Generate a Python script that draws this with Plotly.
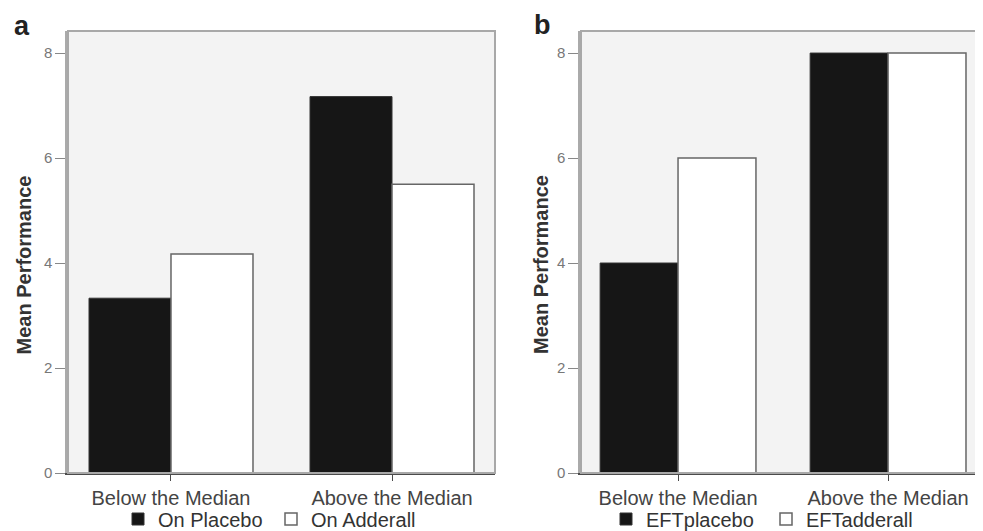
import plotly.graph_objects as go

categories = ["Below the Median", "Above the Median"]
a_placebo = [3.33, 7.17]
a_adderall = [4.17, 5.5]
b_placebo = [4.0, 8.0]
b_adderall = [6.0, 8.0]
legend_a = ["On Placebo", "On Adderall"]
legend_b = ["EFTplacebo", "EFTadderall"]
y_ticks = [0, 2, 4, 6, 8]
y_title = "Mean Performance"

# the page has an 8px body margin; size the figure so it fills the visible window
OFF = 8
W, H = 983 - OFF, 531 - OFF
FONT = "Liberation Sans, Arial, Helvetica, sans-serif"
BLACK = "#161616"

def px_x(p):
    return (p - OFF) / W

def px_y(p):
    return 1 - (p - OFF) / H

fig = go.Figure()

fig.add_trace(go.Bar(x=categories, y=a_placebo, name=legend_a[0], xaxis="x", yaxis="y",
                     marker=dict(color=BLACK, line=dict(color="#333333", width=1)),
                     legend="legend"))
fig.add_trace(go.Bar(x=categories, y=a_adderall, name=legend_a[1], xaxis="x", yaxis="y",
                     marker=dict(color="white", line=dict(color="#666666", width=1.5)),
                     legend="legend"))
fig.add_trace(go.Bar(x=categories, y=b_placebo, name=legend_b[0], xaxis="x2", yaxis="y2",
                     marker=dict(color=BLACK, line=dict(color="#333333", width=1)),
                     legend="legend2"))
fig.add_trace(go.Bar(x=categories, y=b_adderall, name=legend_b[1], xaxis="x2", yaxis="y2",
                     marker=dict(color="white", line=dict(color="#666666", width=1.5)),
                     legend="legend2"))

ydom = [px_y(473), px_y(31)]
xdom_a = [px_x(68), px_x(495)]
xdom_b = [px_x(581), 1.0]

xaxis_common = dict(
    type="category", showgrid=False, zeroline=False,
    showline=True, linecolor="#4a4a4a", linewidth=1.5,
    ticks="outside", ticklen=6, tickcolor="#4a4a4a", tickwidth=1,
    tickfont=dict(family=FONT, size=20, color="#444444"),
    fixedrange=True,
)
yaxis_common = dict(
    range=[0, 8.42], tickvals=y_ticks, showgrid=False, zeroline=False,
    showline=True, linecolor="#aaaaaa", linewidth=2.5,
    ticks="outside", ticklen=10, tickcolor="#888888", tickwidth=1,
    tickfont=dict(family=FONT, size=15, color="#777777"),
    fixedrange=True,
)

fig.update_layout(
    width=W, height=H,
    margin=dict(l=0, r=0, t=0, b=0, autoexpand=False),
    paper_bgcolor="white",
    plot_bgcolor="#f3f3f3",
    barmode="group",
    bargap=0.258,
    bargroupgap=0,
    xaxis=dict(domain=xdom_a, anchor="y", range=[-0.466, 1.466], **xaxis_common),
    yaxis=dict(domain=ydom, anchor="x", **yaxis_common),
    xaxis2=dict(domain=xdom_b, anchor="y2", range=[-0.462, 1.452], **xaxis_common),
    yaxis2=dict(domain=ydom, anchor="x2", **yaxis_common),
    legend=dict(orientation="h", x=px_x(118), xanchor="left", y=px_y(519), yanchor="middle",
                font=dict(family=FONT, size=20, color="#333333"),
                entrywidth=108, entrywidthmode="pixels", bgcolor="rgba(0,0,0,0)",
                itemclick=False, itemdoubleclick=False),
    legend2=dict(orientation="h", x=px_x(606), xanchor="left", y=px_y(519), yanchor="middle",
                 font=dict(family=FONT, size=20, color="#333333"),
                 entrywidth=115, entrywidthmode="pixels", bgcolor="rgba(0,0,0,0)",
                 itemclick=False, itemdoubleclick=False),
    showlegend=True,
)

# plot frames (top / right borders)
for xr, yr in [("x domain", "y domain"), ("x2 domain", "y2 domain")]:
    fig.add_shape(type="rect", xref=xr, yref=yr, x0=0, x1=1, y0=0, y1=1,
                  line=dict(color="#a8a8a8", width=2), fillcolor="rgba(0,0,0,0)", layer="above")

# panel letters
fig.add_annotation(text="<b>a</b>", x=px_x(22), y=px_y(26), xref="paper", yref="paper",
                   showarrow=False, font=dict(family=FONT, size=27, color="#222222"),
                   xanchor="center", yanchor="middle")
fig.add_annotation(text="<b>b</b>", x=px_x(542), y=px_y(25), xref="paper", yref="paper",
                   showarrow=False, font=dict(family=FONT, size=27, color="#222222"),
                   xanchor="center", yanchor="middle")

# y axis titles
for xc in [23.5, 541]:
    fig.add_annotation(text="<b>" + y_title + "</b>", x=px_x(xc), y=px_y(265),
                       xref="paper", yref="paper", showarrow=False, textangle=-90,
                       font=dict(family=FONT, size=20, color="#333333"),
                       xanchor="center", yanchor="middle")

fig.write_html("out.html")
